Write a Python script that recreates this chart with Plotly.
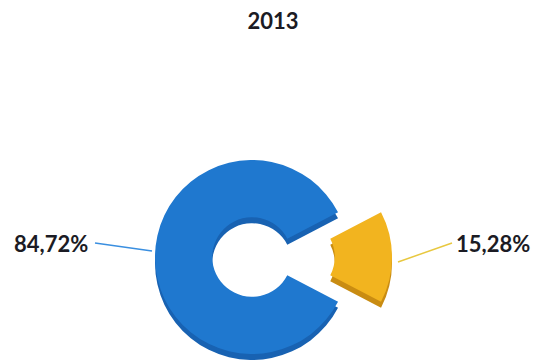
import plotly.graph_objects as go

# Share of the two categories in 2013
title_text = "2013"
categories = ["Orange share", "Blue share"]
values = [15.28, 84.72]

W, H = 536, 363
blue_top, blue_side = "#1F78CF", "#1862B2"
gold_top, gold_side = "#F2B41F", "#C98C12"

# pie geometry in pixels (centre, radius, explode offset, depth)
cx, cy, r = 252, 257, 97
explode_dx = 43
depth = 6


def dom(cx_px, cy_px):
    return dict(x=[(cx_px - r) / W, (cx_px + r) / W],
                y=[1 - (cy_px + r) / H, 1 - (cy_px - r) / H])


def ring(colors, cx_px, cy_px):
    return go.Pie(labels=categories, values=values, hole=0.41, sort=False,
                  direction="clockwise", rotation=90 - values[0] / 100 * 180,
                  marker=dict(colors=colors, line=dict(width=0)),
                  textinfo="none", hoverinfo="label+percent",
                  showlegend=False, domain=dom(cx_px, cy_px))


clear = "rgba(0,0,0,0)"
fig = go.Figure([
    ring([clear, blue_side], cx, cy + depth),
    ring([clear, blue_top], cx, cy),
    ring([gold_side, clear], cx + explode_dx, cy + depth),
    ring([gold_top, clear], cx + explode_dx, cy),
])


def pct(v):
    return f"{v:.2f}".replace(".", ",") + "%"


font = dict(family="Lato, Open Sans, sans-serif", size=22, color="#1b1b24")
fig.add_annotation(text=f"<b>{pct(values[1])}</b>", x=90 / W, y=1 - 243 / H,
                   xref="paper", yref="paper", xanchor="right", yanchor="middle",
                   showarrow=False, font=font)
fig.add_annotation(text=f"<b>{pct(values[0])}</b>", x=454 / W, y=1 - 243 / H,
                   xref="paper", yref="paper", xanchor="left", yanchor="middle",
                   showarrow=False, font=font)
fig.add_shape(type="line", xref="paper", yref="paper",
              x0=95 / W, y0=1 - 243 / H, x1=152 / W, y1=1 - 251 / H,
              line=dict(color="#3A8FE0", width=1.5))
fig.add_shape(type="line", xref="paper", yref="paper",
              x0=398 / W, y0=1 - 262 / H, x1=452 / W, y1=1 - 243 / H,
              line=dict(color="#E8C840", width=1.5))

fig.update_layout(
    width=W, height=H, margin=dict(l=0, r=0, t=0, b=0),
    paper_bgcolor="white", plot_bgcolor="white",
    title=dict(text=f"<b>{title_text}</b>", x=273 / W, xanchor="center",
               y=1 - 21 / H, yanchor="middle",
               font=dict(family="Lato, Open Sans, sans-serif", size=22,
                         color="#1b1b24")),
)

fig.write_html("out.html")
